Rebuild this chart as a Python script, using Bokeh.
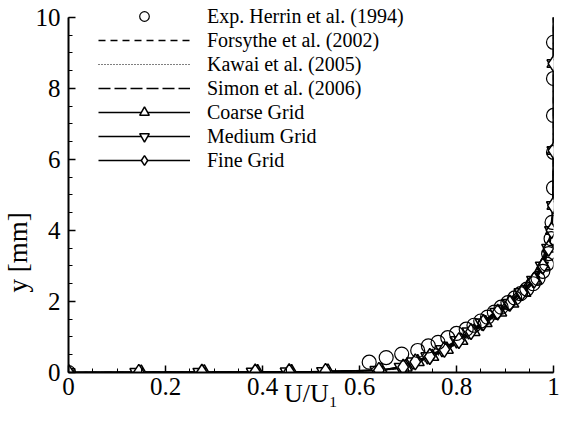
from bokeh.plotting import figure
from bokeh.models import Legend, LegendItem, Range1d, FixedTicker, Title
from bokeh.embed import file_html
from bokeh.resources import INLINE

# ---- data ----
exp_u = [0.0, 0.62, 0.655, 0.687, 0.72, 0.742, 0.762, 0.782, 0.80, 0.82, 0.836, 0.85, 0.864,
         0.878, 0.892, 0.906, 0.92, 0.932, 0.945, 0.958, 0.968, 0.978, 0.986, 0.99, 0.995,
         0.997, 1.0, 1.0, 1.0, 1.0, 1.0]
exp_y = [0.0, 0.29, 0.42, 0.52, 0.62, 0.75, 0.85, 0.98, 1.10, 1.22, 1.33, 1.45, 1.56,
         1.70, 1.84, 1.97, 2.10, 2.22, 2.35, 2.50, 2.65, 2.85, 3.05, 3.35, 3.77,
         4.23, 5.20, 6.20, 7.24, 8.28, 9.30]

forsythe_y = [0, 0.01, 0.03, 0.06, 0.1, 0.2, 0.35, 0.5, 0.75, 1.0, 1.3, 1.6, 2.0, 2.4, 2.8, 3.3, 3.8, 4.5, 6, 8, 10]
forsythe_u = [0, 0.40, 0.55, 0.63, 0.67, 0.705, 0.735, 0.76, 0.79, 0.82, 0.85, 0.875, 0.91, 0.94, 0.963, 0.982, 0.993, 0.999, 1, 1, 1]
kawai_y = [0, 0.01, 0.03, 0.06, 0.1, 0.2, 0.35, 0.5, 0.75, 1.0, 1.3, 1.6, 2.0, 2.4, 2.8, 3.3, 3.8, 4.5, 6, 8, 10]
kawai_u = [0, 0.42, 0.57, 0.645, 0.68, 0.712, 0.74, 0.765, 0.795, 0.825, 0.855, 0.88, 0.915, 0.944, 0.966, 0.984, 0.994, 0.999, 1, 1, 1]
simon_y = [0, 0.01, 0.03, 0.06, 0.1, 0.2, 0.35, 0.5, 0.75, 1.0, 1.3, 1.6, 2.0, 2.4, 2.8, 3.3, 3.8, 4.5, 6, 8, 10]
simon_u = [0, 0.38, 0.54, 0.62, 0.66, 0.70, 0.73, 0.755, 0.785, 0.815, 0.845, 0.87, 0.905, 0.936, 0.96, 0.98, 0.992, 0.998, 1, 1, 1]

grid_y = [0, 0.004, 0.008, 0.014, 0.02, 0.03, 0.06, 0.15, 0.3, 0.45, 0.65, 0.9, 1.15, 1.4,
          1.7, 1.95, 2.25, 2.6, 3.0, 3.5, 4.0, 4.7, 6.25, 8.7, 10.0]
coarse_u = [0, 0.15, 0.28, 0.39, 0.46, 0.535, 0.645, 0.695, 0.72, 0.75, 0.78, 0.81, 0.835, 0.86,
            0.89, 0.915, 0.94, 0.963, 0.98, 0.991, 0.997, 1.0, 1.0, 1.0, 1.0]
medium_u = [0, 0.14, 0.27, 0.38, 0.45, 0.525, 0.635, 0.685, 0.71, 0.74, 0.77, 0.80, 0.825, 0.852,
            0.882, 0.907, 0.932, 0.958, 0.976, 0.989, 0.995, 0.999, 1.0, 1.0, 1.0]
fine_u = [0, 0.145, 0.275, 0.385, 0.455, 0.53, 0.64, 0.69, 0.715, 0.745, 0.775, 0.805, 0.83, 0.855,
          0.885, 0.91, 0.935, 0.96, 0.978, 0.99, 0.996, 0.999, 1.0, 1.0, 1.0]

x_ticks = [0, 0.2, 0.4, 0.6, 0.8, 1]
x_tick_labels = ["0", "0.2", "0.4", "0.6", "0.8", "1"]
x_minor = [0.05 * i for i in range(21)]
y_ticks = [0, 2, 4, 6, 8, 10]
y_minor = [0.5 * i for i in range(21)]

FONT = "Liberation Serif"

# frame extends slightly above y=10 so the legend's first row fits; axis stops at 10
p = figure(width=560, height=422, output_backend="svg", toolbar_location=None,
           x_range=Range1d(0, 1), y_range=Range1d(0, 10.42),
           min_border_left=66, min_border_right=7, min_border_top=2, min_border_bottom=50)
p.outline_line_color = None
p.xgrid.visible = False
p.ygrid.visible = False
p.background_fill_color = "white"
p.border_fill_color = "white"

for ax in (p.xaxis[0], p.yaxis[0]):
    ax.axis_line_width = 2
    ax.axis_line_color = "black"
    ax.major_tick_in = 7
    ax.major_tick_out = 0
    ax.minor_tick_in = 4
    ax.minor_tick_out = 0
    ax.major_tick_line_width = 1.5
    ax.minor_tick_line_width = 1
    ax.major_label_text_font = FONT
    ax.major_label_text_font_size = "25px"
    ax.major_label_text_color = "black"

p.xaxis.ticker = FixedTicker(ticks=x_ticks, minor_ticks=x_minor)
p.xaxis.major_label_overrides = dict(zip(x_ticks, x_tick_labels))
p.xaxis.major_label_standoff = 5
p.xaxis.axis_label = "U/U\u2081"
p.xaxis.axis_label_text_font = FONT
p.xaxis.axis_label_text_font_size = "26px"
p.xaxis.axis_label_text_font_style = "normal"
p.xaxis.axis_label_text_color = "black"
p.xaxis.axis_label_standoff = -19

p.yaxis.ticker = FixedTicker(ticks=y_ticks, minor_ticks=y_minor)
p.yaxis.bounds = (0, 10)
p.yaxis.major_label_standoff = 8

ytitle = Title(text="y [mm]", align="left", offset=80, text_font=FONT,
               text_font_size="27px", text_font_style="normal", text_color="black",
               standoff=0)
p.add_layout(ytitle, "left")

# simulation lines without markers
l_fors = p.line(forsythe_u, forsythe_y, line_color="black", line_width=1.5, line_dash="7 5")
l_kawai = p.line(kawai_u, kawai_y, line_color="black", line_width=1, line_dash="1 2")
l_simon = p.line(simon_u, simon_y, line_color="black", line_width=1.5, line_dash="12 4")

# grids
l_coarse = p.line(coarse_u, grid_y, line_color="black", line_width=1.5)
l_medium = p.line(medium_u, grid_y, line_color="black", line_width=1.5)
l_fine = p.line(fine_u, grid_y, line_color="black", line_width=1.5)
s_coarse = p.scatter(coarse_u[:-1], grid_y[:-1], marker="triangle", size=13,
                     line_color="black", line_width=1.5, fill_color="white")
s_medium = p.scatter(medium_u[:-1], grid_y[:-1], marker="inverted_triangle", size=13,
                     line_color="black", line_width=1.5, fill_color="white")
s_fine = p.scatter(fine_u[:-1], grid_y[:-1], marker="diamond", size=16,
                   line_color="black", line_width=1.5, fill_color="white")

s_exp = p.scatter(exp_u, exp_y, marker="circle", size=14, line_color="black",
                  line_width=1.2, fill_color=None)

legend = Legend(items=[
    LegendItem(label="Exp. Herrin et al. (1994)", renderers=[s_exp]),
    LegendItem(label="Forsythe et al. (2002)", renderers=[l_fors]),
    LegendItem(label="Kawai et al. (2005)", renderers=[l_kawai]),
    LegendItem(label="Simon et al. (2006)", renderers=[l_simon]),
    LegendItem(label="Coarse Grid", renderers=[l_coarse, s_coarse]),
    LegendItem(label="Medium Grid", renderers=[l_medium, s_medium]),
    LegendItem(label="Fine Grid", renderers=[l_fine, s_fine]),
], location=(30, 200))
legend.border_line_color = None
legend.background_fill_alpha = 0
legend.padding = 0
legend.margin = 0
legend.spacing = 0
legend.glyph_width = 92
legend.glyph_height = 24
legend.label_height = 20
legend.label_standoff = 17
legend.label_text_font = FONT
legend.label_text_font_size = "20px"
legend.label_text_color = "black"
p.add_layout(legend)

open("out.html", "w").write(file_html(p, INLINE))
